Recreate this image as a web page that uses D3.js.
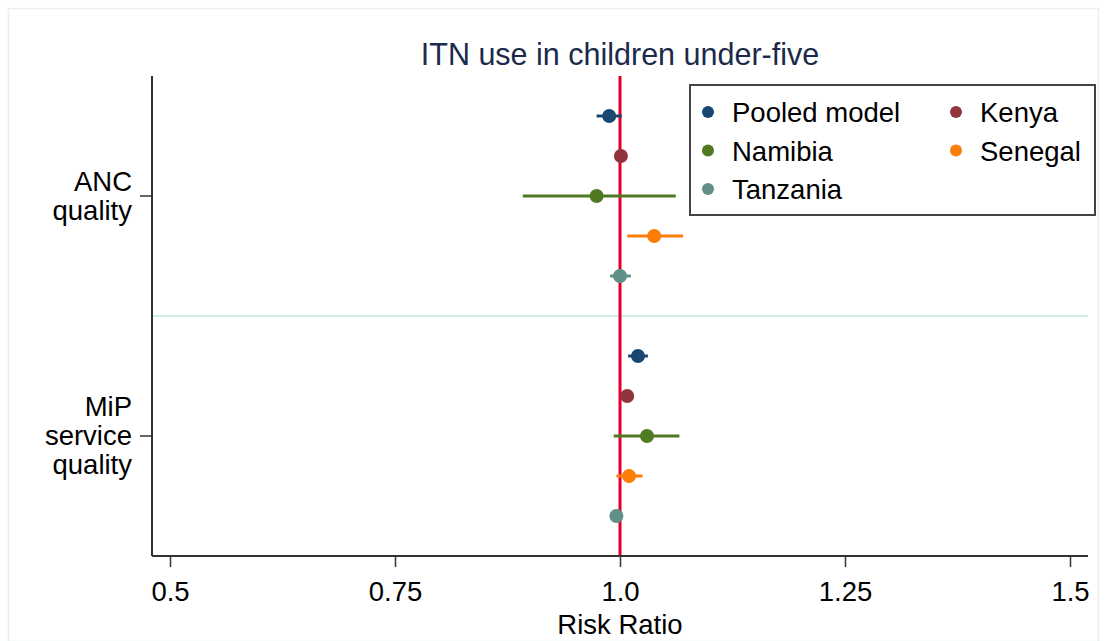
<!DOCTYPE html>
<html>
<head>
<meta charset="utf-8">
<script src="https://cdn.jsdelivr.net/npm/d3@7/dist/d3.min.js"></script>
<style>
  html, body { margin: 0; padding: 0; background: #fff; }
  svg { display: block; font-family: "Liberation Sans", Arial, sans-serif; }
</style>
</head>
<body>
<svg id="chart" width="1107" height="641"></svg>
<script>
// Outcomes (y groups) and the countries / pooled estimate shown for each
const outcomes = ["ANC quality", "MiP service quality"];
const outcomeLines = [["ANC", "quality"], ["MiP", "service", "quality"]];
const models = ["Pooled model", "Kenya", "Namibia", "Senegal", "Tanzania"];
const modelColors = ["#1a476f", "#90353b", "#4f7a23", "#fb7f06", "#5f8f86"];

// Risk ratios and 95% confidence limits, ordered as in `models`
const ancRR   = [0.988, 1.001, 0.974, 1.038, 1.000];
const ancLo   = [0.974, 0.997, 0.892, 1.008, 0.989];
const ancHi   = [1.002, 1.005, 1.062, 1.070, 1.012];
const mipRR   = [1.020, 1.008, 1.030, 1.010, 0.996];
const mipLo   = [1.009, 1.005, 0.993, 0.996, 0.994];
const mipHi   = [1.031, 1.011, 1.066, 1.025, 0.998];

const xTicks = [0.5, 0.75, 1.0, 1.25, 1.5];
const xTickLabels = ["0.5", "0.75", "1.0", "1.25", "1.5"];

const svg = d3.select("#chart");
const W = 1107, H = 641;
const plot = { left: 152, right: 1088, top: 76, bottom: 556 };

// light outer frame
svg.append("rect")
  .attr("x", 8.5).attr("y", 8.5)
  .attr("width", W - 17).attr("height", H - 8)
  .attr("fill", "none").attr("stroke", "#e6f0f2").attr("stroke-width", 1.5);

const x = d3.scaleLinear().domain([0.48, 1.52]).range([plot.left, plot.right]);
// 12 row slots: 5 models per outcome, plus a gap row between the groups
const y = d3.scaleLinear().domain([0, 12]).range([plot.top, plot.bottom]);

const rows = [];
[[ancRR, ancLo, ancHi], [mipRR, mipLo, mipHi]].forEach(([rr, lo, hi], g) => {
  models.forEach((m, i) => {
    rows.push({ outcome: outcomes[g], model: m, color: modelColors[i],
                rr: rr[i], lo: lo[i], hi: hi[i], slot: 1 + g * 6 + i });
  });
});

// separator between the two outcome groups
svg.append("line")
  .attr("x1", plot.left).attr("x2", plot.right)
  .attr("y1", y(6)).attr("y2", y(6))
  .attr("stroke", "#d3ecec").attr("stroke-width", 2);

// reference line at RR = 1
svg.append("line")
  .attr("x1", x(1)).attr("x2", x(1))
  .attr("y1", plot.top).attr("y2", plot.bottom)
  .attr("stroke", "#e0002b").attr("stroke-width", 3);

// confidence intervals
svg.append("g").selectAll("line").data(rows).join("line")
  .attr("x1", d => x(d.lo)).attr("x2", d => x(d.hi))
  .attr("y1", d => y(d.slot)).attr("y2", d => y(d.slot))
  .attr("stroke", d => d.color).attr("stroke-width", 3);

// point estimates
svg.append("g").selectAll("circle").data(rows).join("circle")
  .attr("cx", d => x(d.rr)).attr("cy", d => y(d.slot))
  .attr("r", 7).attr("fill", d => d.color);

// x axis
const xAxis = d3.axisBottom(x).tickValues(xTicks)
  .tickFormat((d, i) => xTickLabels[i]).tickSize(11).tickPadding(14);
const gx = svg.append("g").attr("transform", `translate(0,${plot.bottom})`).call(xAxis);
gx.select(".domain").attr("stroke", "#333").attr("stroke-width", 2)
  .attr("d", `M${plot.left},0H${plot.right}`);
gx.selectAll(".tick line").attr("stroke", "#333").attr("stroke-width", 1.5);
gx.selectAll(".tick text").attr("font-size", 27.5).attr("fill", "#000")
  .attr("font-family", "Liberation Sans, Arial, sans-serif");

svg.append("text")
  .attr("x", x(1)).attr("y", 634)
  .attr("text-anchor", "middle").attr("font-size", 27.5).attr("fill", "#000")
  .text("Risk Ratio");

// y axis
svg.append("line")
  .attr("x1", plot.left).attr("x2", plot.left)
  .attr("y1", plot.top).attr("y2", plot.bottom)
  .attr("stroke", "#333").attr("stroke-width", 2);

const catSlots = [3, 9];
outcomes.forEach((o, g) => {
  const yc = y(catSlots[g]);
  svg.append("line")
    .attr("x1", plot.left - 12).attr("x2", plot.left)
    .attr("y1", yc).attr("y2", yc)
    .attr("stroke", "#333").attr("stroke-width", 1.5);
  const lines = outcomeLines[g];
  const lh = 29;
  const t = svg.append("text")
    .attr("text-anchor", "end").attr("font-size", 27.5).attr("fill", "#000");
  lines.forEach((ln, k) => {
    t.append("tspan")
      .attr("x", plot.left - 20)
      .attr("y", yc + 9 + (k - (lines.length - 1) / 2) * lh)
      .text(ln);
  });
});

// title
svg.append("text")
  .attr("x", x(1)).attr("y", 65)
  .attr("text-anchor", "middle").attr("font-size", 30.5).attr("fill", "#1b2a4a")
  .text("ITN use in children under-five");

// legend
const lg = svg.append("g");
lg.append("rect")
  .attr("x", 690).attr("y", 85).attr("width", 405).attr("height", 130)
  .attr("fill", "#fff").attr("stroke", "#444").attr("stroke-width", 2);
const legendPos = [[0, 0], [1, 0], [0, 1], [1, 1], [0, 2]];
models.forEach((m, i) => {
  const [c, r] = legendPos[i];
  const lx = 708 + c * 248, ly = 112 + r * 38.5;
  lg.append("circle").attr("cx", lx).attr("cy", ly).attr("r", 6).attr("fill", modelColors[i]);
  lg.append("text").attr("x", lx + 24).attr("y", ly + 10)
    .attr("font-size", 27.5).attr("fill", "#000").text(m);
});
</script>
</body>
</html>
